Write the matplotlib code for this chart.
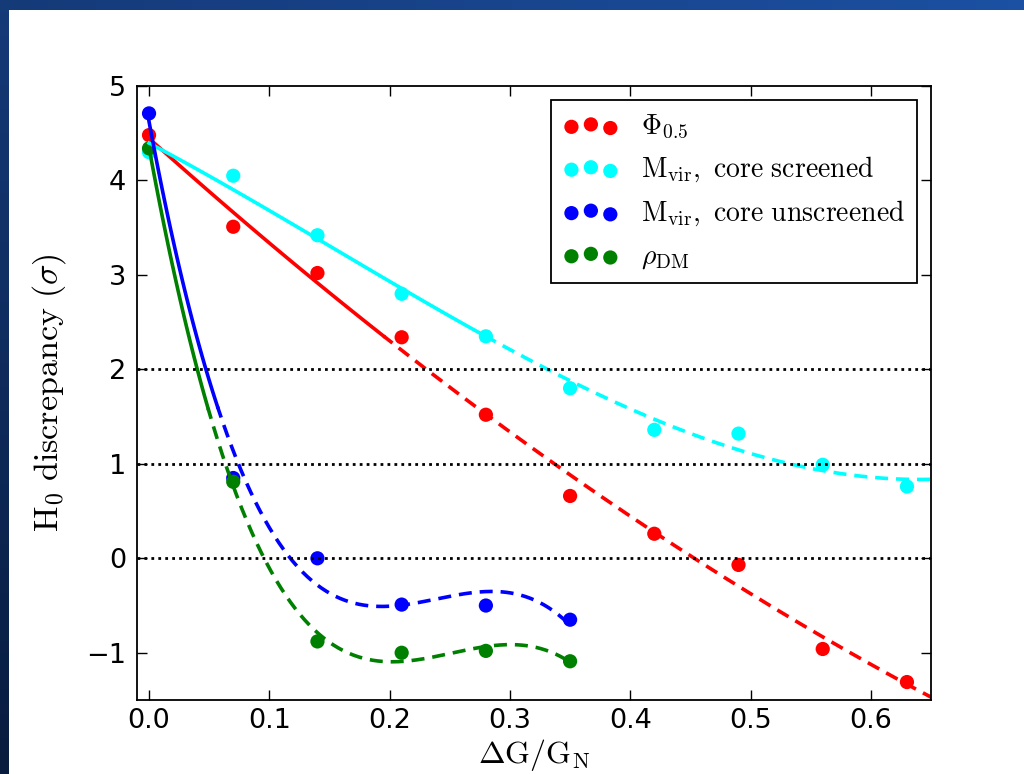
import numpy as np
import matplotlib.pyplot as plt
from matplotlib.patches import Rectangle

plt.rcParams['mathtext.fontset'] = 'cm'
plt.rcParams['font.family'] = ['DejaVu Sans']

# Data points: H0 discrepancy vs Delta G / G_N
dg_long = [0.0, 0.07, 0.14, 0.21, 0.28, 0.35, 0.42, 0.49, 0.56, 0.63]
phi_05 = [4.48, 3.51, 3.02, 2.34, 1.52, 0.66, 0.26, -0.07, -0.96, -1.31]
mvir_screened = [4.30, 4.05, 3.42, 2.80, 2.35, 1.80, 1.36, 1.32, 0.99, 0.76]

dg_short = [0.0, 0.07, 0.14, 0.21, 0.28, 0.35]
mvir_unscreened = [4.71, 0.85, 0.0, -0.49, -0.50, -0.65]
rho_dm = [4.34, 0.81, -0.88, -1.00, -0.98, -1.09]

labels = [r'$\Phi_{0.5}$',
          r'$\mathrm{M_{vir},\ core\ screened}$',
          r'$\mathrm{M_{vir},\ core\ unscreened}$',
          r'$\rho_{\mathrm{DM}}$']
colors = ['red', 'cyan', 'blue', 'green']
fit_degree = [2, 3, 3, 3]
solid_end = [0.195, 0.28, 0.057, 0.049]
dashed_end = [0.66, 0.66, 0.35, 0.35]
sigma_levels = [0, 1, 2]

series = [(dg_long, phi_05), (dg_long, mvir_screened),
          (dg_short, mvir_unscreened), (dg_short, rho_dm)]

fig = plt.figure(figsize=(10.24, 7.74), dpi=100)

# slide background: blue gradient frame with a white panel
bg = fig.add_axes([0, 0, 1, 1], zorder=-5)
bg.set_axis_off()
tl = np.array([0x15, 0x3a, 0x78]) / 255
tr = np.array([0x1c, 0x50, 0xa2]) / 255
bl = np.array([0x08, 0x1c, 0x3e]) / 255
u = np.linspace(0, 1, 64)[None, :, None]
v = np.linspace(0, 1, 64)[:, None, None]
grad = tl + (tr - tl) * u + (bl - tl) * v
bg.imshow(np.clip(grad, 0, 1), extent=[0, 1, 0, 1], aspect='auto', origin='upper')
bg.add_patch(Rectangle((9 / 1024, 0), 1, 1 - 10 / 774, transform=bg.transAxes,
                       facecolor='white', edgecolor='none'))
bg.set_xlim(0, 1)
bg.set_ylim(0, 1)

ax = fig.add_axes([137 / 1024, 1 - 700 / 774, 794 / 1024, 614 / 774])

for (xs, ys), c, lab in zip(series, colors, labels):
    ax.scatter(xs, ys, s=105, color=c, edgecolors='none', label=lab)

# polynomial fits: solid over the allowed range, dashed beyond it
for (xs, ys), c, deg, x1, x2 in zip(series, colors, fit_degree, solid_end, dashed_end):
    coef = np.polyfit(xs, ys, deg)
    xa = np.linspace(0, x1, 100)
    xb = np.linspace(x1, x2, 300)
    ax.plot(xa, np.polyval(coef, xa), color=c, lw=2.6)
    ax.plot(xb, np.polyval(coef, xb), color=c, lw=2.6, linestyle=(0.5, (3.6, 2.2)))

for lvl in sigma_levels:
    ax.axhline(lvl, color='black', lw=2.0, linestyle=(0, (1, 1.5)))

ax.set_xlim(-0.01, 0.65)
ax.set_ylim(-1.5, 5)
ax.set_xticks([0.0, 0.1, 0.2, 0.3, 0.4, 0.5, 0.6])
ax.set_yticks([-1, 0, 1, 2, 3, 4, 5])
ax.xaxis.set_major_formatter(plt.FormatStrFormatter('%.1f'))
ax.tick_params(direction='in', top=True, right=True, length=7, width=1,
               labelsize=19.5)
ax.tick_params(axis='x', pad=6)
ax.tick_params(axis='y', pad=8)
for sp in ax.spines.values():
    sp.set_linewidth(1.3)

ax.set_xlabel(r'$\Delta\mathrm{G/G_N}$', fontsize=23, labelpad=2)
ax.set_ylabel(r'$\mathrm{H_0\ discrepancy}\ (\sigma)$', fontsize=24.5, labelpad=13)

leg = ax.legend(loc='upper right', fontsize=20, scatterpoints=3,
                scatteryoffsets=[0.375, 0.5, 0.3125], fancybox=False,
                framealpha=1, edgecolor='black', borderaxespad=0.52,
                handlelength=2.0, handletextpad=0.8, labelspacing=0.5,
                borderpad=0.42)
leg.get_frame().set_linewidth(1.3)

fig.savefig('out.png', dpi=100)
